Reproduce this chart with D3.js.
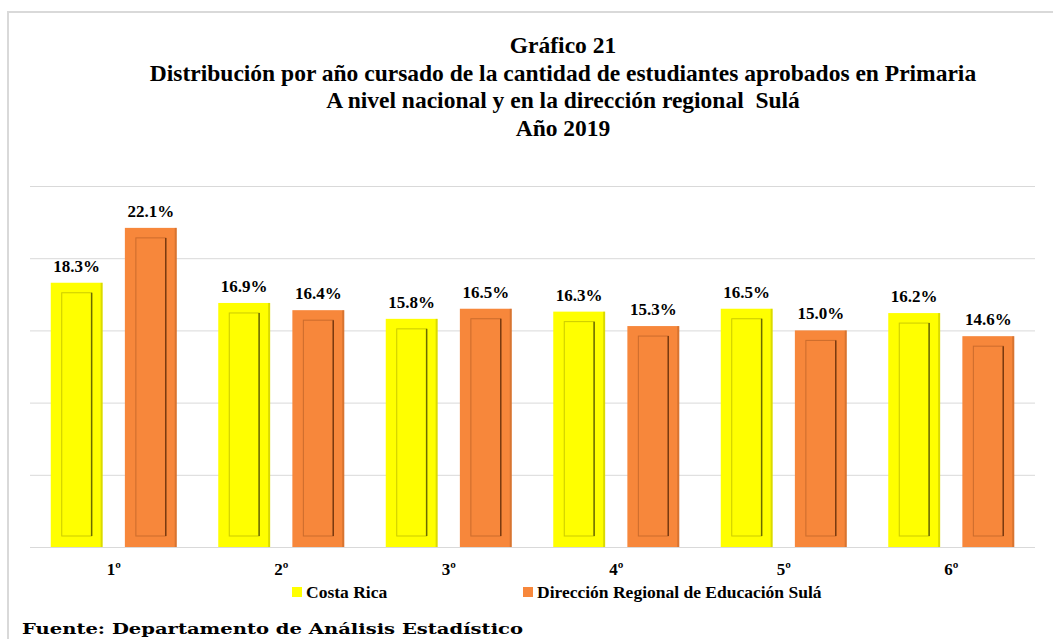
<!DOCTYPE html>
<html>
<head>
<meta charset="utf-8">
<script src="https://cdn.jsdelivr.net/npm/d3@7"></script>
<style>
  body { margin: 0; background: #fff; }
  text { font-family: "Liberation Serif", "Times New Roman", serif; font-weight: bold; fill: #000; }
</style>
</head>
<body>
<svg width="1053" height="639"></svg>
<script>
// data
const grades = ['1º', '2º', '3º', '4º', '5º', '6º'];
const costaRica = [18.3, 16.9, 15.8, 16.3, 16.5, 16.2];
const sula = [22.1, 16.4, 16.5, 15.3, 15.0, 14.6];
const seriesNames = ['Costa Rica', 'Dirección Regional de Educación Sulá'];
const yTicks = [0, 5, 10, 15, 20, 25];
const titleLines = [
  'Gráfico 21',
  'Distribución por año cursado de la cantidad de estudiantes aprobados en Primaria',
  'A nivel nacional y en la dirección regional  Sulá',
  'Año 2019'
];
const source = 'Fuente: Departamento de Análisis Estadístico';

const colors = ['#ffff00', '#f7873b'];
const darkEdge = ['#6b6b00', '#7a3a10'];

const svg = d3.select('svg');
const width = +svg.attr('width');
const height = +svg.attr('height');
const margin = {top: 186, right: 18, bottom: 92, left: 30};
const innerWidth = width - margin.left - margin.right;
const innerHeight = height - margin.top - margin.bottom;

// light grey frame (top and left edges visible)
svg.append('path')
  .attr('d', `M8,${height} L8,12 L${width},12`)
  .attr('fill', 'none')
  .attr('stroke', '#d9d9d9')
  .attr('stroke-width', 2);

// title
svg.append('g').selectAll('text')
  .data(titleLines)
  .enter().append('text')
    .attr('x', 563)
    .attr('y', (d, i) => 53 + i * 27.5)
    .attr('text-anchor', 'middle')
    .style('font-size', '23.5px')
    .style('white-space', 'pre')
    .text(d => d);

const x0 = d3.scaleBand()
  .domain(grades)
  .range([0, innerWidth]);
const x1 = d3.scaleBand()
  .domain(seriesNames)
  .range([0, x0.bandwidth()])
  .paddingInner(0.3)
  .paddingOuter(0.28);
const y = d3.scaleLinear()
  .domain([0, 25])
  .range([innerHeight, 0]);

const g = svg.append('g')
  .attr('transform', `translate(${margin.left}, ${margin.top})`);

// gridlines
g.append('g')
  .call(d3.axisLeft(y).tickValues(yTicks).tickSize(-innerWidth).tickFormat(''))
  .call(a => a.select('.domain').remove())
  .selectAll('.tick line')
    .attr('stroke', '#d9d9d9');

// category labels under each group
g.append('g').selectAll('text')
  .data(grades)
  .enter().append('text')
    .attr('x', d => x0(d) + x0.bandwidth() / 2)
    .attr('y', innerHeight + 28)
    .attr('text-anchor', 'middle')
    .style('font-size', '17px')
    .text(d => d);

// build rows of bars
const rows = [];
grades.forEach((gr, i) => {
  rows.push({grade: gr, s: 0, name: seriesNames[0], value: costaRica[i]});
  rows.push({grade: gr, s: 1, name: seriesNames[1], value: sula[i]});
});

const bars = g.selectAll('.bar')
  .data(rows)
  .enter().append('g')
    .attr('class', 'bar')
    .attr('transform', d => `translate(${x0(d.grade) + x1(d.name)}, 0)`);

const bw = x1.bandwidth();
// outer body
bars.append('rect')
  .attr('y', d => y(d.value))
  .attr('width', bw)
  .attr('height', d => innerHeight - y(d.value))
  .attr('fill', d => colors[d.s]);
// slightly darker right rim
bars.append('rect')
  .attr('x', bw - 2)
  .attr('y', d => y(d.value))
  .attr('width', 2)
  .attr('height', d => innerHeight - y(d.value))
  .attr('fill', d => darkEdge[d.s])
  .attr('opacity', 0.25);
// bevel inner panel
const inset = 11;
bars.append('rect')
  .attr('x', inset)
  .attr('y', d => y(d.value) + 10)
  .attr('width', bw - 2 * inset)
  .attr('height', d => innerHeight - y(d.value) - 21)
  .attr('fill', 'none')
  .attr('stroke', d => darkEdge[d.s])
  .attr('stroke-opacity', 0.35)
  .attr('stroke-width', 1);
bars.append('line')
  .attr('x1', bw - inset)
  .attr('x2', bw - inset)
  .attr('y1', d => y(d.value) + 10)
  .attr('y2', innerHeight - 11)
  .attr('stroke', d => darkEdge[d.s])
  .attr('stroke-width', 1.5);

// value labels
bars.append('text')
  .attr('x', bw / 2)
  .attr('y', d => y(d.value) - 11)
  .attr('text-anchor', 'middle')
  .style('font-size', '17px')
  .text(d => d.value.toFixed(1) + '%');

// legend
const legendX = [292, 523];
const legend = svg.append('g').selectAll('g')
  .data(seriesNames)
  .enter().append('g')
    .attr('transform', (d, i) => `translate(${legendX[i]}, 587)`);
legend.append('rect')
  .attr('width', 10)
  .attr('height', 10)
  .attr('fill', (d, i) => colors[i]);
legend.append('text')
  .attr('x', 14)
  .attr('y', 11)
  .style('font-size', '17.5px')
  .text(d => d);

// source note
svg.append('text')
  .attr('x', 22)
  .attr('y', 634)
  .attr('textLength', 501)
  .attr('lengthAdjust', 'spacingAndGlyphs')
  .style('font-family', '"DejaVu Serif", serif')
  .style('font-size', '15px')
  .text(source);
</script>
</body>
</html>
